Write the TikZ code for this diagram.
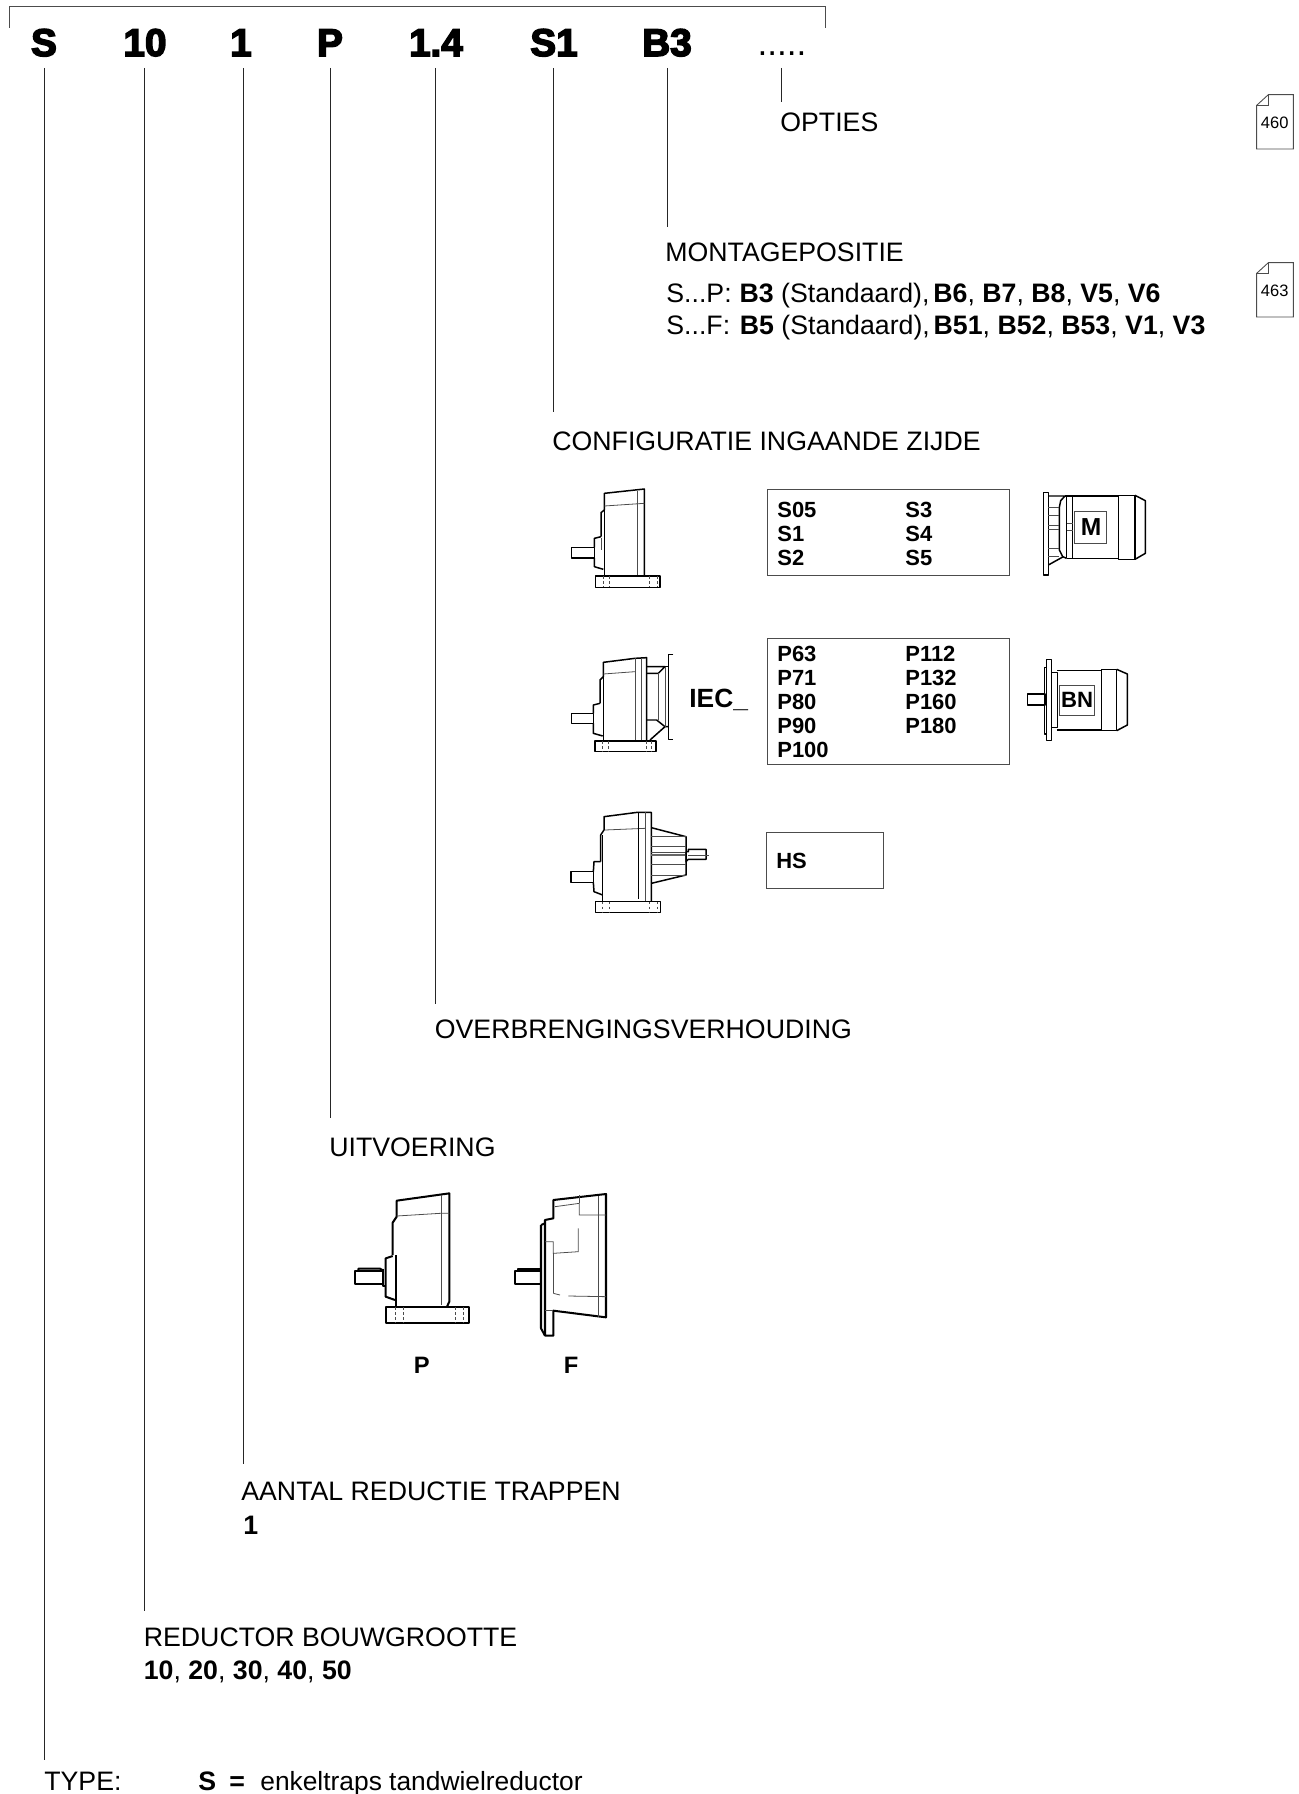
\documentclass[tikz,border=0pt]{standalone}
\usepackage{fontspec}
\setmainfont{Liberation Sans}
\newfontfamily\codefont[FakeBold=4]{Liberation Sans Bold}
\tikzset{
  leader/.style={line width=.5pt,draw=black!85},
  hvy/.style={line width=.85pt,draw=black,line join=round},
  lit/.style={line width=.45pt,draw=black!70},
  dsh/.style={line width=.45pt,draw=black!70,dash pattern=on 1.6pt off 1.2pt},
  frame/.style={line width=.5pt,draw=black!70},
  codetxt/.style={font=\codefont\fontsize{22}{24}\selectfont,inner sep=0pt,anchor=base},
  lbl/.style={font=\fontsize{15.2}{18}\selectfont,inner sep=0pt,anchor=base west},
  boxtxt/.style={font=\bfseries\fontsize{12.5}{14}\selectfont,inner sep=0pt,anchor=base west},
  reftxt/.style={font=\fontsize{9.4}{11}\selectfont,inner sep=0pt}
}
\begin{document}
\begin{tikzpicture}[x=.02cm,y=-.02cm]
  \useasboundingbox (0,0) rectangle (1298,1794);
  % top bracket
  \coordinate (brL) at (9,28); \coordinate (brR) at (825,28);
  \draw[frame] (brL)--(9,6)--(825,6)--(brR);
  % type code
  \foreach \name/\x/\txt in {cS/44/S,cSize/145/10,cStage/241/1,cVer/330/P,cRatio/436/1.4,cConf/554/S1,cPos/667/B3}{
    \node[codetxt] (\name) at (\x,56) {\txt};
  }
  \node[inner sep=0pt,anchor=base,font=\fontsize{20}{22}\selectfont] (cOpt) at (782,56) {.....};
  % leaders
  \foreach \name/\x/\yb in {S/44/1760,Size/144/1611,Stage/243/1464,Ver/330/1118,Ratio/435.5/1004,Conf/553/412,Pos/667/227,Opt/781/102}{
    \coordinate (top\name) at (\x,68); \coordinate (bot\name) at (\x,\yb);
    \draw[leader] (top\name)--(bot\name);
  }
  % labels
  \node[lbl] (lOpt) at (780,132) {OPTIES};
  \node[lbl] (lPos) at (665,262) {MONTAGEPOSITIE};
  \node[lbl] (lPosP) at (666,303) {S...P:\hspace{4.5pt}\textbf{B3} (Standaard),\hspace{2.2pt}\textbf{B6}, \textbf{B7}, \textbf{B8}, \textbf{V5}, \textbf{V6}};
  \node[lbl] (lPosF) at (666,335) {S...F:\hspace{5.5pt}\textbf{B5} (Standaard),\hspace{2.2pt}\textbf{B51}, \textbf{B52}, \textbf{B53}, \textbf{V1}, \textbf{V3}};
  \node[lbl] (lConf) at (552,450) {CONFIGURATIE INGAANDE ZIJDE};
  \node[lbl] (lRatio) at (434.5,1038) {OVERBRENGINGSVERHOUDING};
  \node[lbl] (lVer) at (329,1156) {UITVOERING};
  \node[lbl] (lStage) at (241,1500) {AANTAL REDUCTIE TRAPPEN};
  \node[lbl] (lStageV) at (243,1534) {\textbf{1}};
  \node[lbl] (lSize) at (143.5,1646) {REDUCTOR BOUWGROOTTE};
  \node[lbl] (lSizeV) at (143.5,1679) {\textbf{10}, \textbf{20}, \textbf{30}, \textbf{40}, \textbf{50}};
  \node[lbl] (lType) at (44,1790) {TYPE:};
  \node[lbl] (lTypeS) at (198,1790) {\textbf{S}};
  \node[lbl] (lTypeEq) at (229,1790) {\textbf{=}};
  \node[lbl,font=\fontsize{15}{18}\selectfont] (lTypeV) at (260,1790) {enkeltraps tandwielreductor};
  % reference marks
  \foreach \name/\y in {460/90,463/258}{
    \begin{scope}[shift={(1220,\y)},scale=1/3]
      \draw[frame] (110,46)--(145,14)--(220,14)--(220,177)--(110,177)--cycle;
      \draw[frame] (110,46)--(145,46)--(145,14);
      \node[reftxt] (ref\name) at (164,97) {\name};
    \end{scope}
  }
  % selection boxes
  \draw[frame] (767,489) rectangle (1009,575);
  \draw[frame] (767,638) rectangle (1009,764);
  \draw[frame] (766,832) rectangle (883,888);
  \foreach \name/\x/\y in {S05/777/517,S1/777/541,S2/777/565,S3/905/517,S4/905/541,S5/905/565,
      P63/777/661,P71/777/685,P80/777/709,P90/777/733,P100/777/757,
      P112/905/661,P132/905/685,P160/905/709,P180/905/733,HS/776/868}{
    \node[boxtxt] (t\name) at (\x,\y) {\name};
  }
  \node[inner sep=0pt,anchor=base west,font=\bfseries\fontsize{15}{18}\selectfont] (tIEC) at (689,707) {IEC\_};
  % reducer S
  \begin{scope}[shift={(550,470)},scale=1/3]
    \draw[hvy] (153,200)--(153,128)--(163,120)--(163,70)--(283,57)--(283,318);
    \draw[hvy] (163,120)--(163,318);
    \draw[lit] (163,108)--(283,100); \draw[lit] (263,62)--(263,318);
    \draw[hvy] (137,318) rectangle (330,352);
    \draw[hvy] (65,232) rectangle (133,264);
    \draw[hvy] (133,264)--(133,290)--(160,298); \draw[hvy] (133,232)--(133,205)--(153,200);
    \draw[lit] (153,205)--(153,240);
    \foreach \x in {160,178,298,322} \draw[dsh] (\x,318)--(\x,352);
  \end{scope}
  % reducer P..
  \begin{scope}[shift={(550,470)},scale=1/3]
    \draw[hvy] (150,700)--(150,630)--(160,620)--(160,577)--(255,565)--(290,563)--(290,813);
    \draw[hvy] (160,620)--(160,813);
    \draw[lit] (160,612)--(255,605); \draw[lit] (255,565)--(255,813); \draw[lit] (275,565)--(275,813);
    \draw[hvy] (135,813) rectangle (318,845);
    \draw[hvy] (65,730) rectangle (130,760);
    \draw[hvy] (130,760)--(130,790)--(158,798); \draw[hvy] (130,730)--(130,705)--(150,700);
    \draw[hvy] (290,590)--(345,590)--(325,610)--(288,610);
    \draw[hvy] (345,590)--(355,590); \draw[hvy] (355,770)--(345,770)--(320,750)--(288,750);
    \draw[hvy] (300,810)--(345,770);
    \draw[lit] (325,610)--(325,750); \draw[lit] (345,590)--(345,770);
    \draw[hvy] (370,553)--(355,553)--(355,808)--(370,808);
    \foreach \x in {158,175,290,305} \draw[dsh] (\x,813)--(\x,845);
  \end{scope}
  % reducer HS
  \begin{scope}[shift={(550,780)},scale=1/3]
    \draw[hvy] (152,245)--(152,165)--(162,150)--(162,110)--(262,97)--(304,97)--(304,365);
    \draw[hvy] (158,165)--(158,345)--(158,365);
    \draw[lit] (165,150)--(285,145); \draw[hvy] (265,97)--(265,358); \draw[lit] (285,97)--(285,365);
    \draw[hvy] (137,365) rectangle (332,398);
    \draw[hvy] (63,275) rectangle (130,307);
    \draw[hvy] (130,275)--(132,245)--(152,245); \draw[hvy] (130,307)--(132,335)--(158,345);
    \draw[hvy] (304,143)--(408,170)--(408,285)--(304,310);
    \draw[lit] (304,168)--(408,168) (304,198)--(408,198) (304,218)--(408,218) (304,252)--(408,252) (304,285)--(408,285);
    \draw[line width=1.2pt,draw=black!60] (304,226)--(408,226);
    \draw[hvy] (408,215)--(415,215)--(415,208)--(468,208)--(468,238)--(415,238)--(408,245)--(408,215);
    \draw[lit] (415,226)--(478,226);
    \foreach \x in {158,178,298,322} \draw[dsh] (\x,365)--(\x,398);
  \end{scope}
  % motors
  \begin{scope}[shift={(1020,470)},scale=1/3]
    \draw[hvy] (70,68) rectangle (85,315);
    \draw[hvy] (85,78)--(135,78)--(122,92)--(118,112)--(118,240)--(128,260)--(140,265);
    \draw[hvy] (85,285)--(130,260);
    \foreach \y in {112,135,165,178,235,258} \draw[lit] (85,\y)--(118,\y);
    \draw[hvy] (135,78)--(295,78) (140,265)--(295,265);
    \draw[hvy] (140,78)--(140,265) (158,78)--(158,265);
    \draw[lit] (140,160)--(158,160) (140,182)--(158,182);
    \draw[hvy] (295,76) rectangle (345,268);
    \draw[hvy] (345,76)--(376,92)--(376,250)--(345,268);
    \draw[lit] (163,124) rectangle (260,220);
    \node[boxtxt,anchor=center,font=\bfseries\fontsize{14}{16}\selectfont] (tM) at (213,172) {M};
    \draw[hvy] (80,568) rectangle (95,812);
    \draw[hvy] (80,592)--(73,592)--(73,792)--(80,792);
    \draw[hvy] (23,672) rectangle (75,705);
    \draw[hvy] (95,607)--(112,607)--(112,772)--(95,772);
    \draw[hvy] (112,601)--(245,601) (112,780)--(245,780);
    \draw[hvy] (245,598) rectangle (290,782);
    \draw[hvy] (290,598)--(322,612)--(322,765)--(290,782);
    \draw[lit] (118,645) rectangle (224,737);
    \node[boxtxt,anchor=center,font=\bfseries\fontsize{12.6}{15}\selectfont] (tBN) at (171,690) {BN};
  \end{scope}
  % executions P and F
  \begin{scope}[shift={(340,1170)},scale=1/3,hvy/.style={line width=1.15pt,draw=black,line join=round}]
    \draw[hvy] (158,255)--(158,158)--(170,140)--(170,92)--(328,70)--(328,395)--(320,412);
    \draw[lit] (170,138)--(300,130)--(328,130); \draw[lit] (303,75)--(303,405);
    \draw[hvy] (168,255)--(168,412);
    \draw[hvy] (158,258)--(137,265)--(137,380)--(165,390);
    \draw[hvy] (138,412) rectangle (387,458);
    \foreach \x in {165,190,345,370} \draw[dsh] (\x,412)--(\x,458);
    \draw[hvy] (45,302) rectangle (130,342);
    \draw[hvy] (55,302)--(55,296)--(120,296)--(130,302);
    \draw[hvy] (130,296)--(130,348)--(137,348);
    \node[inner sep=0pt,font=\bfseries\fontsize{13.5}{15}\selectfont] (tP) at (245,585) {P};
    % F
    \draw[hvy] (640,90)--(798,72)--(798,442)--(640,422)--(640,497)--(615,497)--(615,150)--(640,145)--cycle;
    \draw[hvy] (603,165)--(603,475)--(615,497); \draw[hvy] (603,165)--(615,160);
    \draw[lit] (645,110)--(718,100)--(718,135)--(798,135); \draw[lit] (718,100)--(718,75);
    \draw[lit] (715,175)--(715,245)--(640,250)--(640,215)--(615,215);
    \draw[lit] (775,78)--(775,440); \draw[lit] (685,378)--(798,380); \draw[lit] (640,370)--(660,375);
    \draw[lit] (640,250)--(640,370); \draw[lit] (615,420)--(640,420);
    \draw[hvy] (525,302) rectangle (603,342);
    \draw[hvy] (535,302)--(535,296)--(603,296);
    \node[inner sep=0pt,font=\bfseries\fontsize{13.5}{15}\selectfont] (tF) at (693,585) {F};
  \end{scope}
\end{tikzpicture}
\end{document}
